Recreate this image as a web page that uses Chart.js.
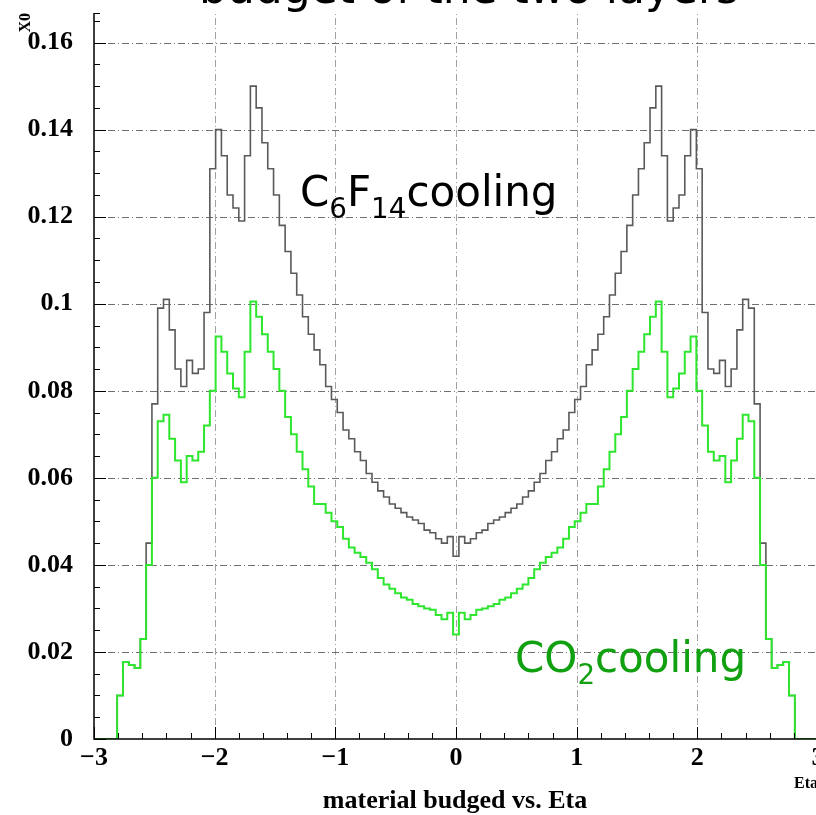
<!DOCTYPE html>
<html>
<head>
<meta charset="utf-8">
<script src="https://cdn.jsdelivr.net/npm/chart.js@4.4.1/dist/chart.umd.min.js"></script>
<style>
  html, body { margin: 0; padding: 0; background: #fff; overflow: hidden; }
  #wrap { position: relative; width: 816px; height: 815px; overflow: hidden; }
  canvas { position: absolute; left: 0; top: 0; }
</style>
</head>
<body>
<div id="wrap"><canvas id="c" width="900" height="815"></canvas></div>
<script>
// Histogram binning in eta
const etaMin = -3;
const etaMax = 3;
const binWidth = 0.048;   // 125 bins

// Material budget (X0) per eta bin, C6F14 cooling
const c6f14 = [
  0, 0, 0, 0, 0.010, 0.0177, 0.017, 0.0163, 0.023, 0.045,
  0.077, 0.099, 0.101, 0.094, 0.085, 0.081, 0.087, 0.084, 0.085, 0.098,
  0.131, 0.140, 0.134, 0.125, 0.122, 0.119, 0.134, 0.150, 0.145, 0.137,
  0.131, 0.125, 0.118, 0.112, 0.107, 0.102, 0.097, 0.093, 0.0894, 0.086,
  0.081, 0.078, 0.075, 0.071, 0.069, 0.066, 0.064, 0.061, 0.059, 0.057,
  0.0556, 0.054, 0.053, 0.052, 0.051, 0.0503, 0.0495, 0.048, 0.0474, 0.046,
  0.045, 0.0465,
  0.042,
  0.0465, 0.045, 0.046, 0.0474, 0.048, 0.0495, 0.0503, 0.051, 0.052, 0.053, 0.054, 0.0556,
  0.057, 0.059, 0.061, 0.064, 0.066, 0.069, 0.071, 0.075, 0.078, 0.081,
  0.086, 0.0894, 0.093, 0.097, 0.102, 0.107, 0.112, 0.118, 0.125, 0.131,
  0.137, 0.145, 0.150, 0.134, 0.119, 0.122, 0.125, 0.134, 0.140, 0.131,
  0.098, 0.085, 0.084, 0.087, 0.081, 0.085, 0.094, 0.101, 0.099, 0.077,
  0.045, 0.023, 0.0163, 0.017, 0.0177, 0.010, 0, 0, 0, 0
];

// Material budget (X0) per eta bin, CO2 cooling
const co2 = [
  0, 0, 0, 0, 0.010, 0.0177, 0.017, 0.0163, 0.023, 0.040,
  0.060, 0.073, 0.0745, 0.069, 0.064, 0.059, 0.065, 0.064, 0.066, 0.072,
  0.080, 0.0925, 0.089, 0.084, 0.0805, 0.0785, 0.089, 0.1005, 0.097, 0.093,
  0.089, 0.085, 0.080, 0.074, 0.070, 0.066, 0.062, 0.058, 0.054, 0.054,
  0.052, 0.050, 0.0487, 0.046, 0.044, 0.0428, 0.0418, 0.0405, 0.039, 0.037,
  0.0355, 0.0345, 0.0335, 0.0325, 0.032, 0.031, 0.0305, 0.030, 0.0297, 0.0285,
  0.0275, 0.029,
  0.024,
  0.029, 0.0275, 0.0285, 0.0297, 0.030, 0.0305, 0.031, 0.032, 0.0325, 0.0335, 0.0345, 0.0355,
  0.037, 0.039, 0.0405, 0.0418, 0.0428, 0.044, 0.046, 0.0487, 0.050, 0.052,
  0.054, 0.054, 0.058, 0.062, 0.066, 0.070, 0.074, 0.080, 0.085, 0.089,
  0.093, 0.097, 0.1005, 0.089, 0.0785, 0.0805, 0.084, 0.089, 0.0925, 0.080,
  0.072, 0.066, 0.064, 0.065, 0.059, 0.064, 0.069, 0.0745, 0.073, 0.060,
  0.040, 0.023, 0.0163, 0.017, 0.0177, 0.010, 0, 0, 0, 0
];

const xTicks = [-3, -2, -1, 0, 1, 2, 3];
const yTicks = [0, 0.02, 0.04, 0.06, 0.08, 0.1, 0.12, 0.14, 0.16];
const yMax = 0.1668;

const titleText = 'budget of the two layers';
const xTitle = 'material budged vs. Eta';
const xUnitLabel = 'Eta';
const yTitle = 'X0';

// Step outline points: one per lower bin edge plus the closing upper edge
function histPoints(values) {
  const pts = values.map((v, i) => ({ x: etaMin + i * binWidth, y: v }));
  pts.push({ x: etaMax, y: values[values.length - 1] });
  return pts;
}

const SERIF = '"Liberation Serif", "Times New Roman", serif';
const SANS = '"DejaVu Sans", Verdana, sans-serif';

function fmtMinus(v) {
  return v < 0 ? '\u2212' + Math.abs(v) : String(v);
}

// Text with subscripts
function drawRich(ctx, parts, x, y, size, color) {
  ctx.save();
  ctx.fillStyle = color;
  ctx.textBaseline = 'alphabetic';
  ctx.textAlign = 'left';
  let cx = x;
  for (const p of parts) {
    const s = p.sub ? size * 0.66 : size;
    ctx.font = s + 'px ' + SANS;
    const dy = p.sub ? size * 0.28 : 0;
    ctx.fillText(p.t, cx, y + dy);
    cx += ctx.measureText(p.t).width;
  }
  ctx.restore();
}

const frame = {
  id: 'frame',
  beforeDatasetsDraw(chart) {
    const { ctx, chartArea: a, scales: { x, y } } = chart;
    ctx.save();
    ctx.lineWidth = 1;
    ctx.setLineDash([7, 3, 1, 3]);
    // vertical grid
    ctx.strokeStyle = '#a0a0a0';
    for (const t of xTicks) {
      if (t === etaMin || t === etaMax) continue;
      const px = Math.round(x.getPixelForValue(t)) + 0.5;
      ctx.beginPath(); ctx.moveTo(px, a.bottom); ctx.lineTo(px, a.top); ctx.stroke();
    }
    // horizontal grid
    ctx.strokeStyle = '#707070';
    for (const t of yTicks) {
      if (t === 0) continue;
      const py = Math.round(y.getPixelForValue(t)) + 0.5;
      ctx.beginPath(); ctx.moveTo(a.left, py); ctx.lineTo(a.right, py); ctx.stroke();
    }
    ctx.restore();
  },
  afterDatasetsDraw(chart) {
    const { ctx, chartArea: a, scales: { x, y } } = chart;
    ctx.save();
    ctx.strokeStyle = '#000';
    ctx.lineWidth = 1.5;
    // axes
    ctx.beginPath();
    ctx.moveTo(a.left, a.top); ctx.lineTo(a.left, a.bottom); ctx.lineTo(a.right, a.bottom);
    ctx.stroke();
    ctx.lineWidth = 1;
    // y ticks, major every 0.02, minor every 0.005
    for (let k = 0; k * 0.005 <= yMax + 1e-9; k++) {
      const py = Math.round(y.getPixelForValue(k * 0.005)) + 0.5;
      const len = k % 4 === 0 ? 12 : 6;
      ctx.beginPath(); ctx.moveTo(a.left, py); ctx.lineTo(a.left + len, py); ctx.stroke();
    }
    ctx.beginPath(); ctx.moveTo(a.left, a.top + 0.5); ctx.lineTo(a.left + 6, a.top + 0.5); ctx.stroke();
    // x ticks, major every 1, minor every 0.2
    for (let k = 0; k <= 30; k++) {
      const px = Math.round(x.getPixelForValue(etaMin + k * 0.2)) + 0.5;
      const len = k % 5 === 0 ? 12 : 6;
      ctx.beginPath(); ctx.moveTo(px, a.bottom); ctx.lineTo(px, a.bottom - len); ctx.stroke();
    }
    ctx.restore();

    // titles and annotations
    ctx.save();
    ctx.fillStyle = '#000';
    ctx.textBaseline = 'alphabetic';
    ctx.textAlign = 'left';
    ctx.font = '44px ' + SANS;
    ctx.fillText(titleText, 199, 3);

    ctx.textAlign = 'center';
    ctx.font = 'bold 26px ' + SERIF;
    ctx.fillText(xTitle, 455, 808);

    ctx.textAlign = 'right';
    ctx.font = 'bold 16px ' + SERIF;
    ctx.fillText(xUnitLabel, 818, 788);

    ctx.translate(30, 13);
    ctx.rotate(-Math.PI / 2);
    ctx.textAlign = 'right';
    ctx.font = 'bold 16px ' + SERIF;
    ctx.fillText(yTitle, 0, 0);
    ctx.restore();

    drawRich(ctx, [{ t: 'C' }, { t: '6', sub: true }, { t: 'F' }, { t: '14', sub: true }, { t: 'cooling' }],
      300, 206, 42, '#000');
    drawRich(ctx, [{ t: 'CO' }, { t: '2', sub: true }, { t: 'cooling' }],
      515, 672, 42, '#10a010');
  }
};

new Chart(document.getElementById('c'), {
  type: 'line',
  data: {
    datasets: [
      {
        label: 'CO2 cooling',
        data: histPoints(co2),
        stepped: 'before',
        borderColor: '#2ee62e',
        borderWidth: 2,
        pointRadius: 0,
        fill: false,
        order: 0
      },
      {
        label: 'C6F14 cooling',
        data: histPoints(c6f14),
        stepped: 'before',
        borderColor: '#5a5a5a',
        borderWidth: 1.6,
        pointRadius: 0,
        fill: false,
        order: 1
      }
    ]
  },
  options: {
    responsive: false,
    animation: false,
    devicePixelRatio: 1,
    layout: { padding: { left: 0, top: 13, right: 82, bottom: 0 } },
    plugins: { legend: { display: false }, tooltip: { enabled: false } },
    scales: {
      x: {
        type: 'linear',
        min: etaMin,
        max: etaMax,
        afterBuildTicks(scale) { scale.ticks = xTicks.map(v => ({ value: v })); },
        afterFit(scale) { scale.height = 76; scale.paddingLeft = 0; scale.paddingRight = 0; },
        grid: { display: false, drawTicks: false },
        border: { display: false },
        ticks: {
          padding: 4,
          color: '#000',
          font: { family: SERIF, size: 26, weight: 'bold' },
          callback: v => fmtMinus(v),
          maxRotation: 0
        }
      },
      y: {
        type: 'linear',
        min: 0,
        max: yMax,
        afterBuildTicks(scale) { scale.ticks = yTicks.map(v => ({ value: v })); },
        afterFit(scale) { scale.width = 94; scale.paddingTop = 0; scale.paddingBottom = 0; },
        grid: { display: false, drawTicks: false },
        border: { display: false },
        ticks: {
          padding: 21,
          color: '#000',
          font: { family: SERIF, size: 26, weight: 'bold' },
          callback: v => String(Number(v.toFixed(2)))
        }
      }
    }
  },
  plugins: [frame]
});
</script>
</body>
</html>
